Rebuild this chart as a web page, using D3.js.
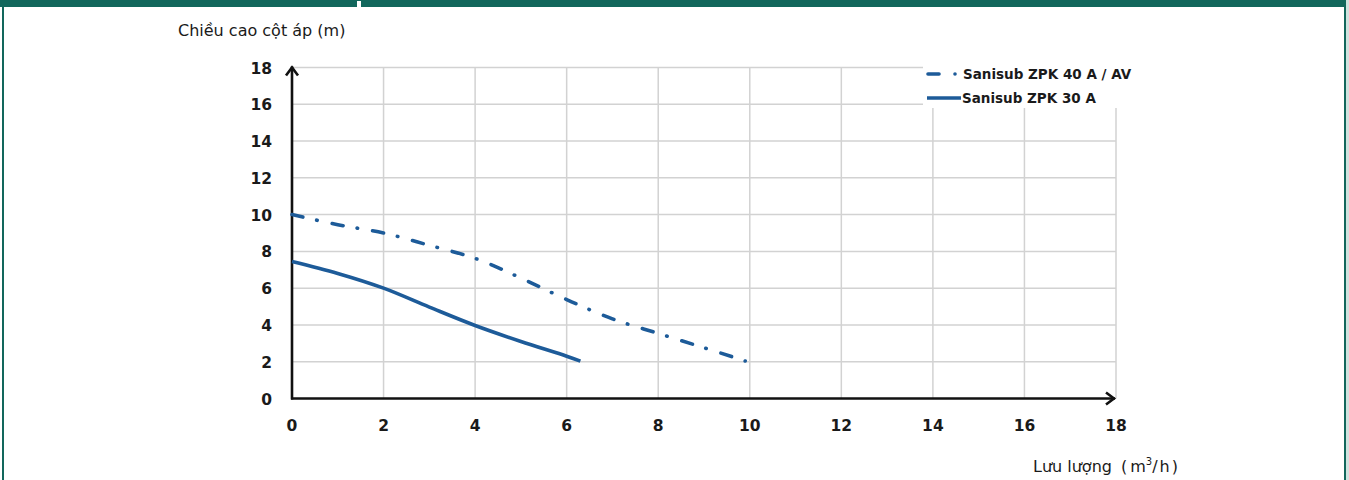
<!DOCTYPE html>
<html>
<head>
<meta charset="utf-8">
<script src="https://cdn.jsdelivr.net/npm/d3@7"></script>
<style>
  html, body { margin: 0; padding: 0; background: #fff; }
  svg { display: block; }
</style>
</head>
<body>
<div id="chart-area"></div>
<script>
// flow (m3/h) and head (m)
const xTicks = [0, 2, 4, 6, 8, 10, 12, 14, 16, 18];
const yTicks = [0, 2, 4, 6, 8, 10, 12, 14, 16, 18];

const zpk40Flow = [0, 1, 2, 3, 4, 5, 6, 7, 8, 9, 9.9];
const zpk40Head = [10.0, 9.45, 9.0, 8.33, 7.62, 6.55, 5.38, 4.33, 3.54, 2.76, 2.04];

const zpk30Flow = [0, 1, 2, 3, 4, 5, 6, 6.3];
const zpk30Head = [7.45, 6.8, 6.0, 4.97, 3.97, 3.1, 2.3, 2.03];

const seriesNames = ["Sanisub ZPK 40 A / AV", "Sanisub ZPK 30 A"];

const W = 1349, H = 480;
const teal = "#12675c";
const blue = "#1d5b99";
const font = "'DejaVu Sans', sans-serif";

const svg = d3.select("#chart-area")
    .append("svg")
    .attr("width", W)
    .attr("height", H);

// frame
svg.append("rect").attr("x", 0).attr("y", 0).attr("width", W).attr("height", 7).attr("fill", teal);
svg.append("rect").attr("x", 357).attr("y", 1).attr("width", 4).attr("height", 6).attr("fill", "#fff");
svg.append("rect").attr("x", 2).attr("y", 0).attr("width", 2).attr("height", H).attr("fill", teal);
svg.append("rect").attr("x", 1344).attr("y", 0).attr("width", 2).attr("height", H).attr("fill", teal);
svg.append("rect").attr("x", 1346).attr("y", 0).attr("width", 3).attr("height", H).attr("fill", "#cfe3df");

const x = d3.scaleLinear().domain([0, 18]).range([292, 1116]);
const y = d3.scaleLinear().domain([0, 18]).range([398.5, 67.5]);

// grid
const grid = svg.append("g").attr("stroke", "#d2d2d2").attr("stroke-width", 1.5);
grid.selectAll("line.v")
    .data(xTicks.filter(d => d > 0))
    .enter()
    .append("line")
    .attr("x1", d => x(d)).attr("x2", d => x(d))
    .attr("y1", y(18)).attr("y2", y(0));
grid.selectAll("line.h")
    .data(yTicks.filter(d => d > 0))
    .enter()
    .append("line")
    .attr("x1", x(0)).attr("x2", x(18))
    .attr("y1", d => y(d)).attr("y2", d => y(d));

// legend box hides grid behind it
svg.append("rect")
    .attr("x", 923).attr("y", 60).attr("width", 215).attr("height", 48)
    .attr("fill", "#fff");

// axes with arrows
const axisG = svg.append("g").attr("stroke", "#111").attr("stroke-width", 2.6).attr("fill", "none");
axisG.append("line").attr("x1", x(0)).attr("x2", x(0)).attr("y1", y(0) + 1).attr("y2", y(18) - 1);
axisG.append("line").attr("x1", x(0) - 1).attr("x2", x(18) - 1).attr("y1", y(0)).attr("y2", y(0));
axisG.append("polyline")
    .attr("points", [[x(0) - 6, y(18) + 8], [x(0), y(18)], [x(0) + 6, y(18) + 8]].join(" "))
    .attr("stroke-linejoin", "miter");
axisG.append("polyline")
    .attr("points", [[x(18) - 10, y(0) - 6], [x(18) - 2, y(0)], [x(18) - 10, y(0) + 6]].join(" "))
    .attr("stroke-linejoin", "miter");

// tick labels
svg.selectAll("text.yt")
    .data(yTicks)
    .enter()
    .append("text")
    .attr("x", 272)
    .attr("y", d => y(d) + 6)
    .attr("text-anchor", "end")
    .attr("font-family", font)
    .attr("font-weight", 700)
    .attr("font-size", "15.5px")
    .attr("fill", "#1a1a1a")
    .text(d => d);

svg.selectAll("text.xt")
    .data(xTicks)
    .enter()
    .append("text")
    .attr("x", d => x(d))
    .attr("y", 431)
    .attr("text-anchor", "middle")
    .attr("font-family", font)
    .attr("font-weight", 700)
    .attr("font-size", "15.5px")
    .attr("fill", "#1a1a1a")
    .text(d => d);

// axis titles
svg.append("text")
    .attr("x", 178).attr("y", 36)
    .attr("font-family", font)
    .attr("font-size", "16px")
    .attr("fill", "#1a1a1a")
    .text("Chiều cao cột áp (m)");

const xt = svg.append("text")
    .attr("x", 1033).attr("y", 472)
    .attr("font-family", font)
    .attr("font-size", "16px")
    .attr("fill", "#1a1a1a");
xt.append("tspan").text("Lưu lượng");
xt.append("tspan").attr("dx", 9).text("(");
xt.append("tspan").attr("dx", 3).text("m");
xt.append("tspan").attr("font-size", "10px").attr("dy", -7).text("3");
xt.append("tspan").attr("dy", 7).attr("letter-spacing", "2px").text("/h)");

// curves
const line = d3.line()
    .x(d => x(d[0]))
    .y(d => y(d[1]))
    .curve(d3.curveCatmullRom.alpha(0.5));

const dashed = svg.append("path")
    .datum(d3.zip(zpk40Flow, zpk40Head))
    .attr("d", line)
    .attr("fill", "none")
    .attr("stroke", blue)
    .attr("stroke-width", 3.6)
    .attr("stroke-linecap", "round");

// stretch the dash-dot pattern a little so the curve ends on a dot
const pattern = [11, 14, 0.5, 15];
const period = d3.sum(pattern);
const len = dashed.node().getTotalLength();
const dotAt = pattern[0] + pattern[1] + 0.25;
const n = Math.round((len - dotAt) / period);
const k = len / (n * period + dotAt);
dashed.attr("stroke-dasharray", pattern.map(v => v * k).join(","));

svg.append("path")
    .datum(d3.zip(zpk30Flow, zpk30Head))
    .attr("d", line)
    .attr("fill", "none")
    .attr("stroke", blue)
    .attr("stroke-width", 3.6)
    .attr("stroke-linecap", "butt");

// legend
const legend = svg.append("g");
legend.append("line")
    .attr("x1", 928).attr("x2", 939).attr("y1", 74).attr("y2", 74)
    .attr("stroke", blue).attr("stroke-width", 3.6).attr("stroke-linecap", "round");
legend.append("circle")
    .attr("cx", 955).attr("cy", 74).attr("r", 1.8).attr("fill", blue);
legend.append("line")
    .attr("x1", 927).attr("x2", 961).attr("y1", 98).attr("y2", 98)
    .attr("stroke", blue).attr("stroke-width", 3.4);

legend.selectAll("text")
    .data(seriesNames)
    .enter()
    .append("text")
    .attr("x", (d, i) => i === 0 ? 963 : 962)
    .attr("y", (d, i) => i === 0 ? 79 : 103)
    .attr("font-family", font)
    .attr("font-weight", 700)
    .attr("font-size", "13.5px")
    .attr("fill", "#1a1a1a")
    .text(d => d);
</script>
</body>
</html>
